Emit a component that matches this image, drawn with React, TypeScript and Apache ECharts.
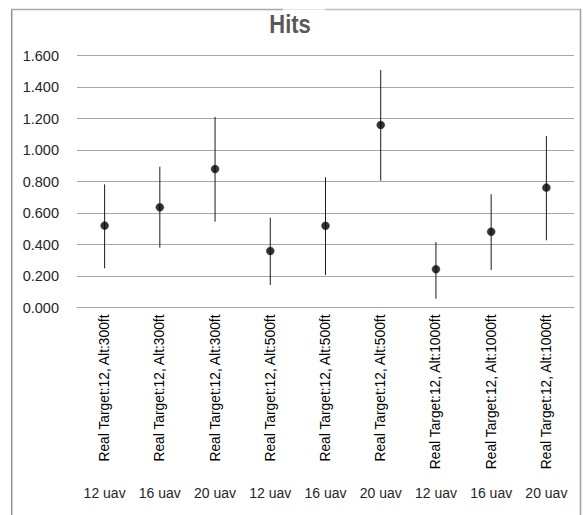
import React, { useEffect, useRef } from "react";
import * as echarts from "echarts";

const categories = [
  "Real Target:12, Alt:300ft",
  "Real Target:12, Alt:300ft",
  "Real Target:12, Alt:300ft",
  "Real Target:12, Alt:500ft",
  "Real Target:12, Alt:500ft",
  "Real Target:12, Alt:500ft",
  "Real Target:12, Alt:1000ft",
  "Real Target:12, Alt:1000ft",
  "Real Target:12, Alt:1000ft",
];
const uavLabels = ["12 uav", "16 uav", "20 uav", "12 uav", "16 uav", "20 uav", "12 uav", "16 uav", "20 uav"];
const means = [0.52, 0.636, 0.879, 0.359, 0.519, 1.159, 0.243, 0.481, 0.761];
const upper = [0.782, 0.894, 1.21, 0.57, 0.827, 1.508, 0.416, 0.719, 1.089];
const lower = [0.249, 0.38, 0.545, 0.143, 0.206, 0.805, 0.056, 0.238, 0.427];
const yTicks = { min: 0, max: 1.6, interval: 0.2 };

export default function App() {
  const ref = useRef<HTMLDivElement>(null);
  useEffect(() => {
    document.body.style.margin = "0";
    const chart = echarts.init(ref.current!, null, { renderer: "svg" });
    const idx = categories.map((_, i) => i);
    chart.setOption({
      animation: false,
      backgroundColor: "#fff",
      grid: { left: 77, right: 9, top: 55.5, bottom: 207.5, containLabel: false },
      xAxis: [
        {
          type: "category",
          data: idx.map(String),
          boundaryGap: true,
          axisLine: { show: true, lineStyle: { color: "#a6a6a6", width: 1 } },
          axisTick: { show: false },
          splitLine: { show: false },
          axisLabel: {
            interval: 0,
            rotate: 90,
            margin: 7,
            fontFamily: "Liberation Sans",
            fontSize: 13.8,
            color: "#000",
            formatter: (v: string) => categories[Number(v)],
          },
        },
        {
          type: "category",
          data: idx.map(String),
          position: "bottom",
          offset: 170,
          gridIndex: 0,
          axisLine: { show: false },
          axisTick: { show: false },
          axisLabel: {
            interval: 0,
            margin: 8,
            fontFamily: "Liberation Sans",
            fontSize: 14,
            color: "#262626",
            formatter: (v: string) => uavLabels[Number(v)],
          },
        },
      ],
      yAxis: {
        type: "value",
        min: yTicks.min,
        max: yTicks.max,
        interval: yTicks.interval,
        axisLine: { show: false },
        axisTick: { show: false },
        splitLine: { lineStyle: { color: "#a6a6a6", width: 1 } },
        axisLabel: {
          margin: 18,
          fontFamily: "Liberation Sans",
          fontSize: 14.5,
          color: "#262626",
          formatter: (v: number) => v.toFixed(3),
        },
      },
      graphic: [
        { type: "line", shape: { x1: 11.5, y1: 9, x2: 11.5, y2: 515 }, style: { stroke: "#8c8c8c", lineWidth: 1 } },
        { type: "line", shape: { x1: 12.5, y1: 10, x2: 12.5, y2: 515 }, style: { stroke: "#d0d0d0", lineWidth: 1 } },
        { type: "line", shape: { x1: 11, y1: 9.5, x2: 283, y2: 9.5 }, style: { stroke: "#a8a8a8", lineWidth: 1.5 } },
        { type: "line", shape: { x1: 283, y1: 9.5, x2: 325, y2: 9.5 }, style: { stroke: "#e6e6e6", lineWidth: 1 } },
        { type: "line", shape: { x1: 325, y1: 9.5, x2: 581, y2: 9.5 }, style: { stroke: "#c0c0c0", lineWidth: 1.5 } },
        { type: "line", shape: { x1: 580.5, y1: 9, x2: 580.5, y2: 515 }, style: { stroke: "#a0a0a0", lineWidth: 1.5 } },
        {
          type: "text",
          x: 259,
          y: 25,
          scaleX: 0.88,
          originX: 259,
          style: {
            text: "Hits",
            fontFamily: "Liberation Sans",
            fontWeight: "bold",
            fontSize: 25,
            fill: "#595959",
            textAlign: "center",
            textVerticalAlign: "middle",
          },
        },
      ],
      series: [
        {
          type: "custom",
          xAxisIndex: 0,
          data: idx.map((i) => [i, lower[i], upper[i]]),
          encode: { x: 0, y: [1, 2] },
          renderItem: (params: any, api: any) => {
            const p1 = api.coord([api.value(0), api.value(1)]);
            const p2 = api.coord([api.value(0), api.value(2)]);
            return {
              type: "line",
              shape: { x1: p1[0], y1: p1[1], x2: p2[0], y2: p2[1] },
              style: { stroke: "#1a1a1a", lineWidth: 1 },
            };
          },
          z: 2,
        },
        {
          type: "scatter",
          xAxisIndex: 0,
          data: idx.map((i) => [i, means[i]]),
          symbol: "circle",
          symbolSize: 8,
          itemStyle: { color: "#000", borderColor: "#1f3f6b", borderWidth: 0.6 },
          z: 3,
        },
      ],
    });
    return () => chart.dispose();
  }, []);
  return <div ref={ref} style={{ width: 583, height: 515 }} />;
}
